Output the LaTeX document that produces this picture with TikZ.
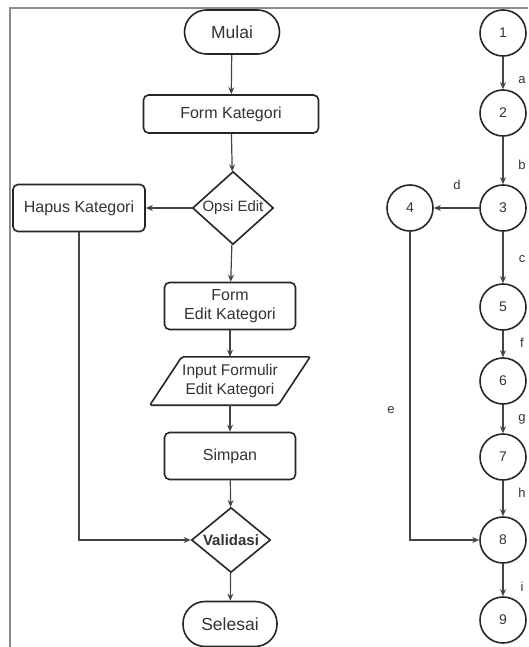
\documentclass[tikz,border=0pt]{standalone}
\usepackage{fontspec}
\setmainfont{Liberation Sans}
\usetikzlibrary{shapes.geometric,arrows.meta}
\definecolor{edge}{HTML}{262626}
\definecolor{linec}{HTML}{444444}
\definecolor{txt}{HTML}{333333}
\definecolor{framec}{HTML}{8C8C8C}
\begin{document}
\begin{tikzpicture}[x=1pt,y=-1pt,
  box/.style={draw=edge,line width=1.6pt,rounded corners=5pt,fill=white,minimum width=131pt,minimum height=47pt,inner sep=0pt,font=\fontsize{16}{19}\selectfont,align=center,text=txt},
  term/.style={box,rounded corners=22pt,minimum width=95pt,minimum height=44pt,font=\fontsize{17.5}{20}\selectfont},
  dia/.style={draw=edge,line width=1.6pt,diamond,inner sep=0pt,fill=white,font=\fontsize{15}{17}\selectfont,text=txt},
  circ/.style={draw=edge,line width=1.6pt,circle,minimum size=46pt,inner sep=0pt,font=\fontsize{14}{16}\selectfont,text=txt},
  lab/.style={font=\fontsize{13}{15}\selectfont,text=txt,inner sep=0pt},
  arr/.style={draw=linec,line width=1.2pt,-{Stealth[length=7pt,width=6pt]}},
]
\useasboundingbox (0,0) rectangle (528,647);
\draw[framec,line width=2.5pt] (10,647) -- (10,8) -- (528,8);

% left flowchart
\node[term] (mulai) at (232,32) {Mulai};
\node[box,minimum width=175pt,minimum height=38pt] (formk) at (231,114) {Form Kategori};
\node[dia,minimum width=81pt,minimum height=73pt] (opsi) at (233,208) {\makebox[0pt]{Opsi Edit}};
\node[box,minimum width=132pt] (hapus) at (79,208) {Hapus Kategori};
\node[box] (forme) at (230,306) {Form\\Edit Kategori};
\node[inner sep=0pt,minimum width=128pt,minimum height=48pt,align=center,font=\fontsize{15.5}{19}\selectfont,text=txt] (inp) at (230,381) {};
\draw[draw=edge,line width=1.6pt,rounded corners=2pt,fill=white]
  ([xshift=-16pt]inp.south west) -- ([xshift=-16pt]inp.south east) -- ([xshift=16pt]inp.north east) -- ([xshift=16pt]inp.north west) -- cycle;
\node[inner sep=0pt,align=center,font=\fontsize{15.5}{19}\selectfont,text=txt] (inptext) at (inp.center) {Input Formulir\\Edit Kategori};
\node[box] (simpan) at (230,456) {Simpan};
\node[dia,minimum width=79pt,minimum height=65pt] (valid) at (231,540) {\makebox[0pt]{\bfseries Validasi}};
\node[term,minimum width=94pt,minimum height=45pt] (selesai) at (230,624) {Selesai};

\draw[arr] (mulai) -- (formk);
\draw[arr] (formk) -- (opsi);
\draw[arr] (opsi) -- (hapus);
\draw[arr] (opsi) -- (forme);
\draw[arr] (forme) -- (inp);
\draw[arr] (inp) -- (simpan);
\draw[arr] (simpan) -- (valid);
\draw[arr] (hapus.south) |- (valid.west);
\draw[arr] (valid) -- (selesai);

% right flow graph
\node[circ] (c1) at (503,33) {1};
\node[circ] (c2) at (503,113) {2};
\node[circ] (c3) at (503,208) {3};
\node[circ] (c4) at (410,208) {4};
\node[circ] (c5) at (503,307) {5};
\node[circ] (c6) at (503,381) {6};
\node[circ] (c7) at (503,457) {7};
\node[circ] (c8) at (503,540) {8};
\node[circ] (c9) at (503,620) {9};

\draw[arr] (c1) -- (c2);
\draw[arr] (c2) -- (c3);
\draw[arr] (c3) -- (c4);
\draw[arr] (c4.south) |- (c8.west);
\draw[arr] (c3) -- (c5);
\draw[arr] (c5) -- (c6);
\draw[arr] (c6) -- (c7);
\draw[arr] (c7) -- (c8);
\draw[arr] (c8) -- (c9);

\node[lab] (la) at (522,80) {a};
\node[lab] (lb) at (522,165) {b};
\node[lab] (lc) at (522,259) {c};
\node[lab] (ld) at (457,185) {d};
\node[lab] (le) at (391,410) {e};
\node[lab] (lf) at (522,343) {f};
\node[lab] (lg) at (522,419) {g};
\node[lab] (lh) at (522,493) {h};
\node[lab] (li) at (522,587) {i};
\end{tikzpicture}
\end{document}
